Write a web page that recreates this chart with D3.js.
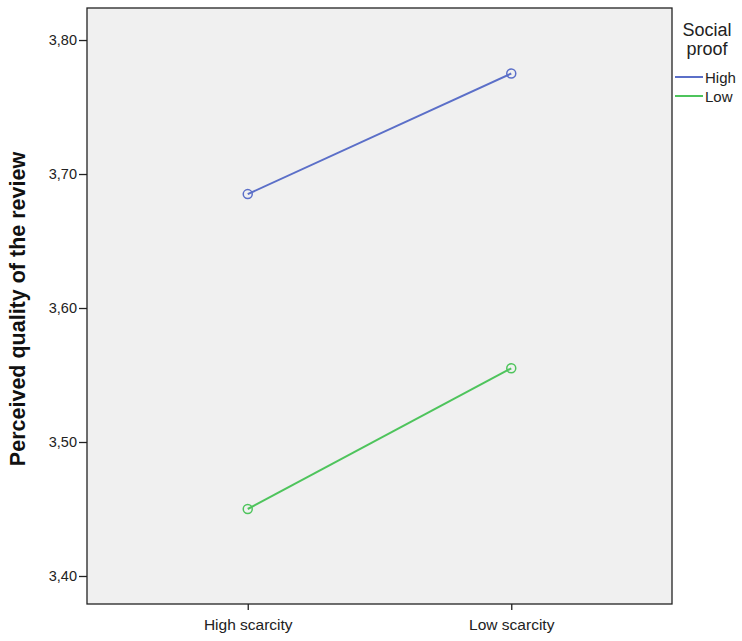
<!DOCTYPE html>
<html>
<head>
<meta charset="utf-8">
<script src="https://cdnjs.cloudflare.com/ajax/libs/d3/7.8.5/d3.min.js"></script>
<style>
  body { margin: 0; background: #fff; }
  text { font-family: Arial, "Liberation Sans", sans-serif; }
</style>
</head>
<body>
<svg id="chart" width="742" height="641"></svg>
<script>
const categories = ['High scarcity', 'Low scarcity']
const seriesNames = ['High', 'Low']
const highValues = [3.685, 3.775]
const lowValues = [3.45, 3.555]
const yTicks = [3.40, 3.50, 3.60, 3.70, 3.80]

const svg = d3.select('#chart')
const colors = ['#5b6fc8', '#4ec45c']
const textColor = '#222'

// plot frame
const plotLeft = 87, plotRight = 672, plotTop = 8, plotBottom = 604

const xScale = d3.scalePoint()
  .domain(categories)
  .range([plotLeft, plotRight])
  .padding(0.61)

const yScale = d3.scaleLinear()
  .domain([3.3791, 3.8239])
  .range([plotBottom, plotTop])

svg.append('rect')
  .attr('x', plotLeft).attr('y', plotTop)
  .attr('width', plotRight - plotLeft).attr('height', plotBottom - plotTop)
  .style('fill', '#f0f0f0')
  .style('stroke', textColor)
  .style('stroke-width', 1.3)

// y axis
const yAxis = d3.axisLeft(yScale)
  .tickValues(yTicks)
  .tickSize(8)
  .tickPadding(2)
  .tickFormat(d => d3.format('.2f')(d).replace('.', ','))

svg.append('g')
  .attr('class', 'y-axis')
  .attr('transform', `translate(${plotLeft}, 0)`)
  .call(yAxis)

// x axis
const xAxis = d3.axisBottom(xScale)
  .tickSize(6)

svg.append('g')
  .attr('class', 'x-axis')
  .attr('transform', `translate(0, ${plotBottom})`)
  .call(xAxis)

svg.selectAll('path.domain').style('stroke-width', 0)
svg.selectAll('.tick line').style('stroke', textColor).style('stroke-width', 1.3)
svg.selectAll('.tick text')
  .style('fill', textColor)
  .style('font-family', 'Arial, "Liberation Sans", sans-serif')
svg.selectAll('.y-axis .tick text').style('font-size', '14.5px')
svg.selectAll('.x-axis .tick text').style('font-size', '15.5px').attr('y', 15)

// y title
svg.append('text')
  .attr('transform', `translate(25, ${(plotTop + plotBottom) / 2 + 3}) rotate(-90)`)
  .attr('text-anchor', 'middle')
  .style('font-size', '21.5px')
  .style('font-weight', 'bold')
  .style('fill', '#111')
  .text('Perceived quality of the review')

// lines + markers
const series = [highValues, lowValues]
const line = d3.line()
  .x((d, i) => xScale(categories[i]))
  .y(d => yScale(d))

series.forEach((vals, s) => {
  svg.append('path')
    .datum(vals)
    .attr('d', line)
    .style('fill', 'none')
    .style('stroke', colors[s])
    .style('stroke-width', 2)

  svg.selectAll('circle.s' + s)
    .data(vals)
    .enter()
    .append('circle')
    .attr('class', 's' + s)
    .attr('cx', (d, i) => xScale(categories[i]))
    .attr('cy', d => yScale(d))
    .attr('r', 4.5)
    .style('fill', 'none')
    .style('stroke', colors[s])
    .style('stroke-width', 1.5)
})

// legend
svg.append('text').attr('x', 707).attr('y', 36).attr('text-anchor', 'middle')
  .style('font-size', '18px').style('fill', textColor).text('Social')
svg.append('text').attr('x', 707).attr('y', 55).attr('text-anchor', 'middle')
  .style('font-size', '18px').style('fill', textColor).text('proof')

seriesNames.forEach((name, i) => {
  const y = 77 + i * 19
  svg.append('line')
    .attr('x1', 675).attr('x2', 703).attr('y1', y).attr('y2', y)
    .style('stroke', colors[i]).style('stroke-width', 2)
  svg.append('text').attr('x', 705).attr('y', y + 5.5)
    .style('font-size', '15px').style('fill', textColor).text(name)
})
</script>
</body>
</html>
